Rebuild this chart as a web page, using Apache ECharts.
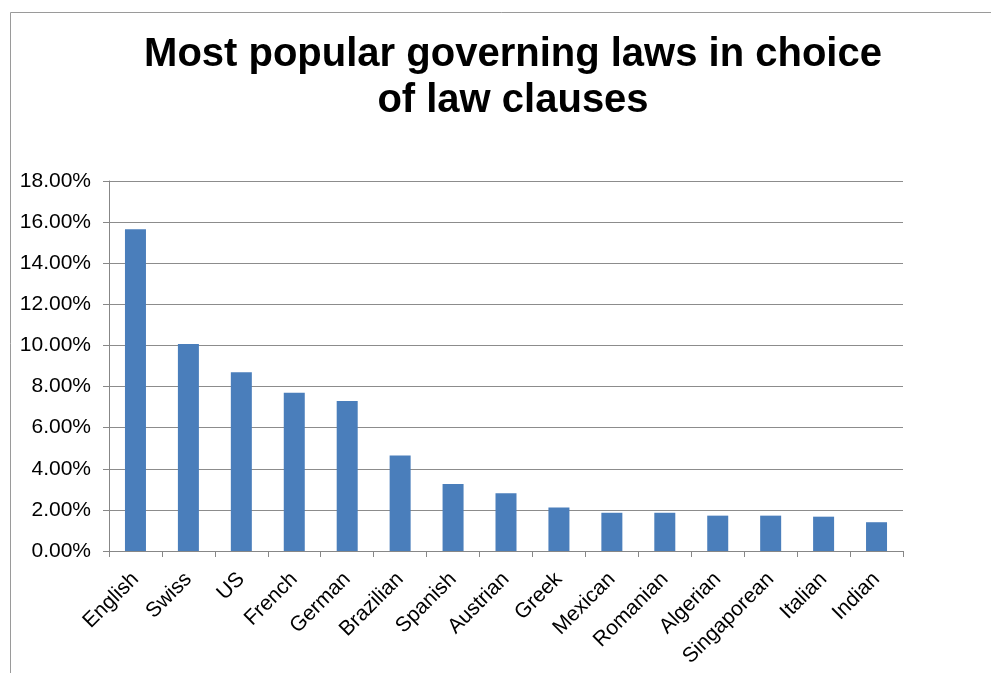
<!DOCTYPE html>
<html><head><meta charset="utf-8">
<script src="https://cdn.jsdelivr.net/npm/echarts@6/dist/echarts.min.js"></script>
<style>html,body{margin:0;padding:0;background:#fff}#c{width:991px;height:673px}</style>
</head><body><div id="c"></div>
<script>
const categories = ["English","Swiss","US","French","German","Brazilian","Spanish","Austrian","Greek","Mexican","Romanian","Algerian","Singaporean","Italian","Indian"];
const shares = [15.65,10.07,8.69,7.70,7.30,4.65,3.26,2.81,2.12,1.86,1.86,1.72,1.72,1.67,1.40];
const titleText = "Most popular governing laws in choice\nof law clauses";

const chart = echarts.init(document.getElementById('c'));
chart.setOption({
  animation: false,
  graphic: [{type:'rect', shape:{x:10.5,y:12.5,width:1000,height:700}, style:{fill:'none',stroke:'#9a9a9a',lineWidth:1}, silent:true}],
  title: {text: titleText, left: 508, textAlign:'center', top: 27,
    textStyle:{fontFamily:'Liberation Sans, Arial, sans-serif', fontSize:40, fontWeight:'bold', color:'#000', lineHeight:46}},
  grid: {left:109, right:88, top:181, bottom:122, containLabel:false},
  xAxis: {type:'category', data: categories,
    axisLine:{lineStyle:{color:'#878787', width:1}},
    axisTick:{show:true, length:6, alignWithLabel:false, lineStyle:{color:'#878787'}},
    axisLabel:{rotate:45, interval:0, margin:25, fontFamily:'Liberation Sans, Arial, sans-serif', fontSize:21, color:'#000'}},
  yAxis: {type:'value', min:0, max:18, interval:2,
    axisLine:{show:true, lineStyle:{color:'#878787'}},
    axisTick:{show:true, length:6, lineStyle:{color:'#878787'}},
    splitLine:{lineStyle:{color:'#8c8c8c', width:1}},
    axisLabel:{formatter: v => v.toFixed(2) + '%', margin:18, fontFamily:'Liberation Sans, Arial, sans-serif', fontSize:21, color:'#000'}},
  series: [{type:'bar', data: shares, barWidth:21, itemStyle:{color:'#4a7ebb'}}]
});
</script></body></html>
